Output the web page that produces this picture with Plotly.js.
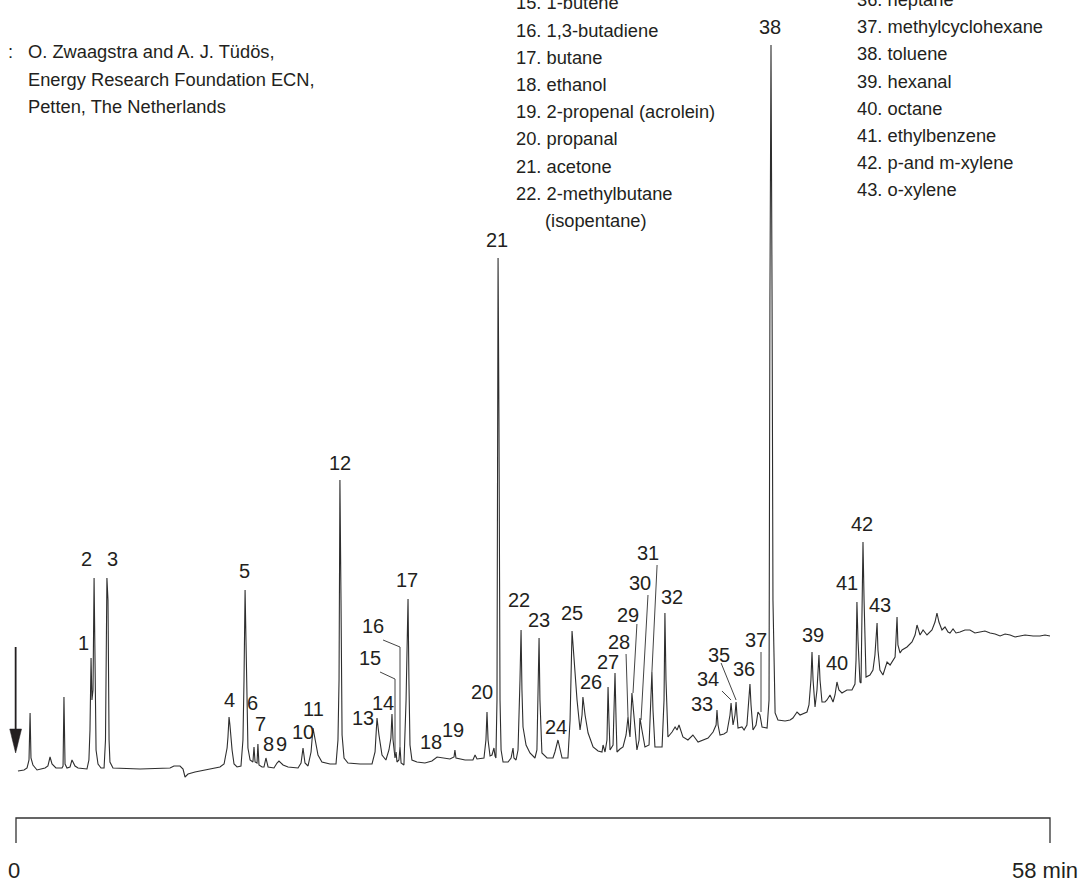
<!DOCTYPE html>
<html><head><meta charset="utf-8">
<script src="https://cdn.plot.ly/plotly-3.0.1.min.js"></script>
<style>html,body{margin:0;padding:0;background:#fff;}#chart{width:1082px;height:887px;}</style>
</head><body><div id="chart"></div>
<script>
// Chromatogram trace (retention time in min, detector signal in arbitrary units)
const timeMin = [
0.11,0.45,0.62,0.73,0.79,0.84,0.95,1.18,1.63,1.79,1.91,2.02,2.24,2.58,2.64,2.69,2.75,2.86,3.03,3.14,3.31,3.48,
3.98,4.09,4.15,4.21,4.26,4.32,4.38,4.43,4.49,4.60,4.77,
4.94,5.02,5.10,5.16,5.22,5.27,5.44,
6.96,8.64,8.86,9.20,9.37,9.48,9.65,10.04,10.88,11.44,
11.67,11.84,11.89,11.95,12.00,12.12,12.23,12.40,
12.62,12.73,12.79,12.85,12.90,12.96,13.01,13.13,
13.29,13.35,13.41,13.52,13.57,13.63,13.80,13.91,14.02,14.14,14.47,14.64,14.75,14.98,15.26,15.82,
15.99,16.10,16.21,16.38,16.55,16.66,16.77,16.94,17.16,17.61,
17.95,18.06,18.12,18.17,18.23,18.29,18.40,18.62,19.30,
19.97,20.14,20.25,20.36,20.53,20.75,20.92,21.03,21.09,21.15,21.26,21.32,21.37,21.48,21.54,21.60,21.76,21.88,21.99,22.04,22.10,22.21,22.49,
22.94,23.33,23.62,23.90,24.34,24.57,24.62,24.68,25.19,25.63,25.75,25.86,26.25,26.36,26.42,26.48,26.59,26.70,26.81,26.87,26.92,26.98,27.04,27.09,27.15,27.21,27.32,
27.60,27.77,27.88,27.93,28.05,28.16,28.27,28.33,28.38,28.44,28.61,28.83,29.11,29.22,29.34,29.39,29.50,29.79,
30.12,30.23,30.40,30.51,30.63,30.96,31.08,31.19,31.30,31.47,31.64,31.75,31.80,31.92,32.09,32.37,32.65,32.87,32.93,33.04,
33.15,33.21,33.26,33.32,33.49,33.60,33.66,33.71,33.88,34.05,34.22,34.33,34.39,34.44,34.55,34.67,34.83,34.95,35.00,35.11,
35.28,35.51,35.62,35.67,35.73,35.84,36.24,36.35,36.40,36.46,36.57,36.80,36.97,37.08,37.19,37.41,37.69,37.97,38.26,38.54,38.82,
39.10,39.27,39.32,39.38,39.49,39.71,39.88,40.05,40.11,40.16,40.22,40.33,40.39,40.44,40.50,40.72,40.84,41.00,41.12,41.17,
41.23,41.34,41.51,41.62,41.73,41.85,42.13,42.24,42.29,42.35,42.41,42.46,42.58,42.74,
43.14,43.42,43.58,43.81,43.98,44.20,44.37,44.48,44.59,44.65,44.71,44.82,44.93,45.04,45.10,45.21,45.38,45.49,45.66,45.83,
45.94,46.05,46.16,46.33,46.61,46.89,47.06,47.12,47.17,47.23,47.34,47.40,47.45,47.51,47.57,47.68,47.90,48.07,48.18,48.30,
48.35,48.46,48.63,48.86,49.03,49.19,49.31,49.36,49.42,49.47,49.59,49.70,49.98,50.26,50.43,50.54,50.71,50.88,51.10,51.38,
51.55,51.66,51.77,51.94,52.11,52.28,52.39,52.56,52.73,52.95,53.23,53.51,53.79,54.07,54.35,54.64,54.92,55.20,55.48,55.76,
56.04,56.32,56.60,57.05,57.44,57.72,58.00
];
const signal = [
9,10,12,20,67,22,15,10,12,14,23,16,12,12,14,83,16,12,13,20,14,12,
11,20,50,122,80,90,202,90,30,16,12,
12,40,202,180,40,18,12,
11,12,14,14,11,3,6,8,11,13,
16,32,43,63,55,30,16,13,
14,40,100,190,140,70,32,20,
18,33,18,17,36,15,13,13,22,13,12,17,19,15,13,12,
17,32,17,14,28,52,42,25,18,16,
16,40,100,300,180,45,22,17,16,
16,28,62,45,25,20,30,42,66,40,22,28,18,20,33,17,15,80,181,100,35,20,18,
17,19,23,22,21,23,30,22,20,20,25,21,22,40,68,40,24,25,32,24,22,80,522,360,80,30,18,
18,22,32,22,20,30,100,150,90,53,35,27,22,30,142,80,27,22,
22,28,40,30,22,22,60,149,120,80,50,65,83,65,47,33,29,28,35,28,
40,93,60,30,35,107,60,28,31,33,45,63,50,43,87,60,30,40,62,50,
33,35,80,108,70,33,33,80,167,100,43,48,53,50,55,43,40,45,38,40,42,
48,55,70,55,45,46,48,65,77,65,55,65,78,65,52,53,50,55,80,96,
75,50,55,68,65,53,52,80,480,735,480,180,67,60,
59,60,62,68,65,67,68,75,100,128,100,73,90,125,100,78,78,80,85,78,
85,98,90,87,90,90,96,120,178,140,98,97,160,238,180,103,105,110,125,157,
130,110,105,118,115,120,123,140,163,135,127,130,133,138,145,155,145,150,145,150,
158,167,158,150,153,148,147,151,147,148,150,150,147,148,149,147,146,144,146,145,
143,144,145,144,144,145,144
];

// Peak numbers and where their labels sit (time, signal)
const peakNumbers = ['1','2','3','4','5','6','7','8','9','10','11','12','13','14','15','16','17','18','19','20','21','22','23','24','25','26','27','28','29','30','31','32','33','34','35','36','37','38','39','40','41','42','43'];
const labelTime = [3.76,3.98,5.44,11.95,12.79,13.29,13.69,14.14,14.92,16.10,16.66,18.17,19.46,20.59,19.86,20.03,21.93,23.28,24.51,26.14,26.98,28.21,29.34,30.29,31.19,32.25,33.21,33.82,34.33,35.00,35.45,36.80,38.48,38.82,39.43,40.84,41.51,42.29,44.71,46.05,46.61,47.45,48.46];
const labelSignal = [137,221,221,80,209,77,56,36,36,48,71,317,62,77,122,154,200,38,50,88,540,180,160,53,167,98,118,138,165,197,227,183,76,101,125,111,140,753,145,117,197,256,175];

// Compound list (legend text)
const creditLines = ['O. Zwaagstra and A. J. Tüdös,', 'Energy Research Foundation ECN,', 'Petten, The Netherlands'];
const legendMiddle = ['15. 1-butene','16. 1,3-butadiene','17. butane','18. ethanol','19. 2-propenal (acrolein)','20. propanal','21. acetone','22. 2-methylbutane'];
const legendMiddleCont = '(isopentane)';
const legendRight = ['36. heptane','37. methylcyclohexane','38. toluene','39. hexanal','40. octane','41. ethylbenzene','42. p-and m-xylene','43. o-xylene'];

// Time scale bar
const scaleTicks = [0, 58];
const scaleLabels = ['0', '58 min'];

const W = 1082, H = 887;
const PXPERMIN = 1034 / 58;
const xr = [-16 / PXPERMIN, (W - 16) / PXPERMIN];
const yr = [-107, 780];
const ink = '#231f20';
const labelFont = {family: 'Liberation Sans, Arial, sans-serif', size: 20, color: ink};
const textFont = {family: 'Liberation Sans, Arial, sans-serif', size: 18.3, color: ink};
const scaleFont = {family: 'Liberation Sans, Arial, sans-serif', size: 22, color: ink};

const annotations = [];
peakNumbers.forEach((p, i) => {
  annotations.push({x: labelTime[i], y: labelSignal[i], xref: 'x', yref: 'y', text: p,
    showarrow: false, xanchor: 'center', yanchor: 'middle', borderpad: 0, font: labelFont});
});
const px = v => v / W, py = v => 1 - v / H;
annotations.push({x: px(10), y: py(52), xref: 'paper', yref: 'paper', text: ':', showarrow: false, xanchor: 'center', yanchor: 'middle', font: textFont});
creditLines.forEach((t, i) => annotations.push({x: px(26), y: py(52 + i * 27.2), xref: 'paper', yref: 'paper', text: t, showarrow: false, xanchor: 'left', yanchor: 'middle', font: textFont}));
legendMiddle.forEach((t, i) => annotations.push({x: px(514), y: py(2.8 + i * 27.2), xref: 'paper', yref: 'paper', text: t, showarrow: false, xanchor: 'left', yanchor: 'middle', font: textFont}));
annotations.push({x: px(543), y: py(2.8 + 8 * 27.2), xref: 'paper', yref: 'paper', text: legendMiddleCont, showarrow: false, xanchor: 'left', yanchor: 'middle', font: textFont});
legendRight.forEach((t, i) => annotations.push({x: px(855), y: py(-0.5 + i * 27.2), xref: 'paper', yref: 'paper', text: t, showarrow: false, xanchor: 'left', yanchor: 'middle', font: textFont}));
annotations.push({x: scaleTicks[0] - 0.1, y: -90, xref: 'x', yref: 'y', text: scaleLabels[0], showarrow: false, xanchor: 'center', yanchor: 'middle', font: scaleFont});
annotations.push({x: scaleTicks[1] + 1.68, y: -90, xref: 'x', yref: 'y', text: scaleLabels[1], showarrow: false, xanchor: 'right', yanchor: 'middle', font: scaleFont});

// leader lines (time, signal) from labels to peaks
const leaders = [
  [[20.42,108],[21.26,101],[21.26,27]],
  [[20.59,140],[21.54,133],[21.54,33]],
  [[34.22,126],[34.33,63]],
  [[34.83,156],[34.61,87]],
  [[35.45,185],[35.06,60]],
  [[35.96,215],[35.67,108]],
  [[39.60,89],[40.11,80]],
  [[39.55,117],[40.39,80]],
  [[41.79,128],[41.79,68]]
];
const shapes = leaders.map(pts => ({type: 'path', xref: 'x', yref: 'y',
  path: 'M ' + pts.map(p => p[0] + ',' + p[1]).join(' L '), line: {color: '#444', width: 1}}));
// scale bar bracket
shapes.push({type: 'path', xref: 'x', yref: 'y',
  path: `M ${scaleTicks[0]},-63 L ${scaleTicks[0]},-38 L ${scaleTicks[1]},-38 L ${scaleTicks[1]},-63`,
  line: {color: '#333', width: 1.3}});
// injection arrow
shapes.push({type: 'line', xref: 'x', yref: 'y', x0: -0.02, x1: -0.02, y0: 133, y1: 48, line: {color: ink, width: 1.8}});
shapes.push({type: 'path', xref: 'x', yref: 'y', path: 'M -0.35,51 L 0.31,51 L -0.02,27 Z', fillcolor: ink, line: {color: ink, width: 0.5}});

const trace = {x: timeMin, y: signal, type: 'scatter', mode: 'lines',
  line: {color: '#2e2e2e', width: 1.1}, hoverinfo: 'skip'};

Plotly.newPlot('chart', [trace], {
  width: W, height: H, autosize: false,
  margin: {l: 0, r: 0, t: 0, b: 0},
  paper_bgcolor: '#fff', plot_bgcolor: '#fff',
  showlegend: false,
  xaxis: {range: xr, visible: false, fixedrange: true},
  yaxis: {range: yr, visible: false, fixedrange: true},
  annotations: annotations, shapes: shapes
}, {displayModeBar: false, staticPlot: true});
</script></body></html>
